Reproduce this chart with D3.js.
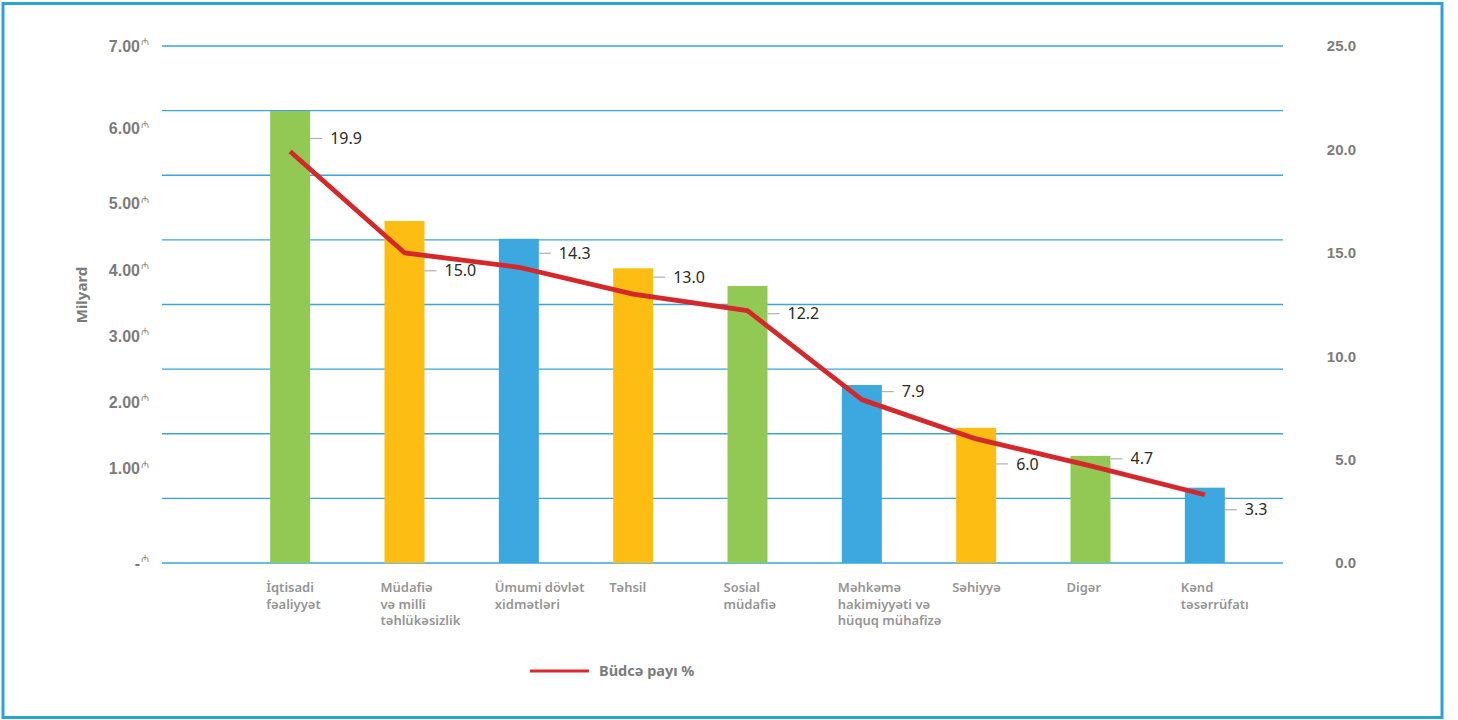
<!DOCTYPE html>
<html>
<head>
<meta charset="utf-8">
<script src="https://cdn.jsdelivr.net/npm/d3@7"></script>
<style>
  body { margin: 0; background: #fff; }
  svg { display: block; font-family: "Noto Sans", sans-serif; }
</style>
</head>
<body>
<svg id="chart" width="1458" height="720"></svg>
<script>
// categories and values
var categories = [
  ["İqtisadi", "fəaliyyət"],
  ["Müdafiə", "və milli", "təhlükəsizlik"],
  ["Ümumi dövlət", "xidmətləri"],
  ["Təhsil"],
  ["Sosial", "müdafiə"],
  ["Məhkəmə", "hakimiyyəti və", "hüquq mühafizə"],
  ["Səhiyyə"],
  ["Digər"],
  ["Kənd", "təsərrüfatı"]
];
var spending = [6.12, 4.63, 4.39, 3.99, 3.75, 2.41, 1.83, 1.45, 1.02];   // milyard manat
var budgetShare = [19.9, 15.0, 14.3, 13.0, 12.2, 7.9, 6.0, 4.7, 3.3]; // %
var barColors = ["#92c955", "#fdbd13", "#3ca8df", "#fdbd13", "#92c955", "#3ca8df", "#fdbd13", "#92c955", "#3ca8df"];
var leftTicks = [0, 1, 2, 3, 4, 5, 6, 7];
var rightTicks = [0, 5, 10, 15, 20, 25];

var svg = d3.select("#chart");
var plotTop = 46, plotBottom = 563, gridLeft = 162, gridRight = 1283;

// outer frame
svg.append("rect")
    .attr("x", 3).attr("y", 3.5)
    .attr("width", 1439).attr("height", 714)
    .attr("fill", "none")
    .attr("stroke", "#2aa3dc")
    .attr("stroke-width", 3);

var gridScale = d3.scaleLinear().domain([0, 8]).range([plotTop, plotBottom]);
var barScale = d3.scaleLinear().domain([0, 7]).range([plotBottom, plotTop]);
var shareScale = d3.scaleLinear().domain([0, 25]).range([plotBottom, plotTop]);
// the left labels in the source sit unevenly between the gridlines
var leftLabelScale = d3.scaleLinear()
    .domain([0, 1, 5, 6, 7])
    .range([gridScale(8), gridScale(6.54), gridScale(2.44), gridScale(1.28), gridScale(0)]);
var xScale = d3.scaleBand()
    .domain(d3.range(categories.length))
    .range([233, 1262]);
var barWidth = 40;
var cx = i => xScale(i) + xScale.bandwidth() / 2;

// gridlines
svg.append("g")
  .selectAll("line")
  .data(d3.range(9))
  .join("line")
    .attr("x1", gridLeft).attr("x2", gridRight)
    .attr("y1", d => gridScale(d)).attr("y2", d => gridScale(d))
    .attr("stroke", "#3aa6dc")
    .attr("stroke-width", 1.3);

// left axis
var leftAxis = svg.append("g")
    .attr("transform", "translate(140,0)")
    .call(d3.axisLeft(leftLabelScale).tickValues(leftTicks).tickSize(0).tickPadding(0)
      .tickFormat(d => d === 0 ? "-" : d3.format(".2f")(d)));
leftAxis.select(".domain").remove();
leftAxis.selectAll("text")
    .attr("fill", "#7c7c7c")
    .style("font-size", "16px")
    .style("font-weight", "700");
leftAxis.selectAll(".tick").append("text")
    .attr("x", 1)
    .attr("dy", "-0.15em")
    .attr("text-anchor", "start")
    .attr("fill", "#8a8a8a")
    .style("font-size", "10px")
    .text("₼");

svg.append("text")
    .attr("transform", "rotate(-90)")
    .attr("x", -295)
    .attr("y", 87)
    .attr("text-anchor", "middle")
    .attr("fill", "#7c7c7c")
    .style("font-size", "15px")
    .style("font-weight", "700")
    .text("Milyard");

// right axis
var rightAxis = svg.append("g")
    .attr("transform", "translate(1356,0)")
    .call(d3.axisRight(shareScale).tickValues(rightTicks).tickSize(0).tickPadding(0)
      .tickFormat(d3.format(".1f")));
rightAxis.select(".domain").remove();
rightAxis.selectAll("text")
    .attr("text-anchor", "end")
    .attr("fill", "#7c7c7c")
    .style("font-size", "15px")
    .style("font-weight", "700");

// bars
svg.append("g")
  .selectAll("rect")
  .data(spending)
  .join("rect")
    .attr("x", (d, i) => cx(i) - barWidth / 2)
    .attr("y", d => barScale(d))
    .attr("width", barWidth)
    .attr("height", d => plotBottom - barScale(d))
    .attr("fill", (d, i) => barColors[i]);

// category labels
svg.append("g")
  .selectAll("text")
  .data(categories)
  .join("text")
    .attr("x", (d, i) => cx(i) - 24)
    .attr("y", 592)
    .attr("fill", "#959595")
    .style("font-size", "13px")
    .style("font-weight", "600")
  .selectAll("tspan")
  .data(d => d)
  .join("tspan")
    .attr("x", function() { return this.parentNode.getAttribute("x"); })
    .attr("dy", (d, i) => i === 0 ? 0 : 16.5)
    .text(d => d);

// share line
var line = d3.line()
    .x((d, i) => cx(i))
    .y(d => shareScale(d));

svg.append("path")
    .datum(budgetShare)
    .attr("d", line)
    .attr("fill", "none")
    .attr("stroke", "#d4282b")
    .attr("stroke-width", 4.8)
    .attr("stroke-linejoin", "round");

// data labels: leader line off the bar's right edge, label placement as in source
var labelNudge = [-13, 18, -14, -17, 3, -8, 25, -7, 15];
var labels = svg.append("g")
  .selectAll("g")
  .data(budgetShare)
  .join("g")
    .attr("transform", (d, i) => "translate(" + (cx(i) + barWidth / 2) + "," + (shareScale(d) + labelNudge[i]) + ")");

labels.append("line")
    .attr("x1", 0).attr("x2", 12)
    .attr("stroke", "#b0b0b0")
    .attr("stroke-width", 1.2);

labels.append("text")
    .attr("x", 20)
    .attr("dy", "0.35em")
    .attr("fill", "#2a2a2a")
    .style("font-size", "16px")
    .text(d => d3.format(".1f")(d));

// legend
var legend = svg.append("g").attr("transform", "translate(530,671)");
legend.append("line")
    .attr("x1", 0).attr("x2", 59)
    .attr("stroke", "#e0262a")
    .attr("stroke-width", 3);
legend.append("text")
    .attr("x", 69)
    .attr("dy", "0.35em")
    .attr("fill", "#7c7c7c")
    .style("font-size", "14.5px")
    .style("font-weight", "700")
    .text("Büdcə payı %");
</script>
</body>
</html>
